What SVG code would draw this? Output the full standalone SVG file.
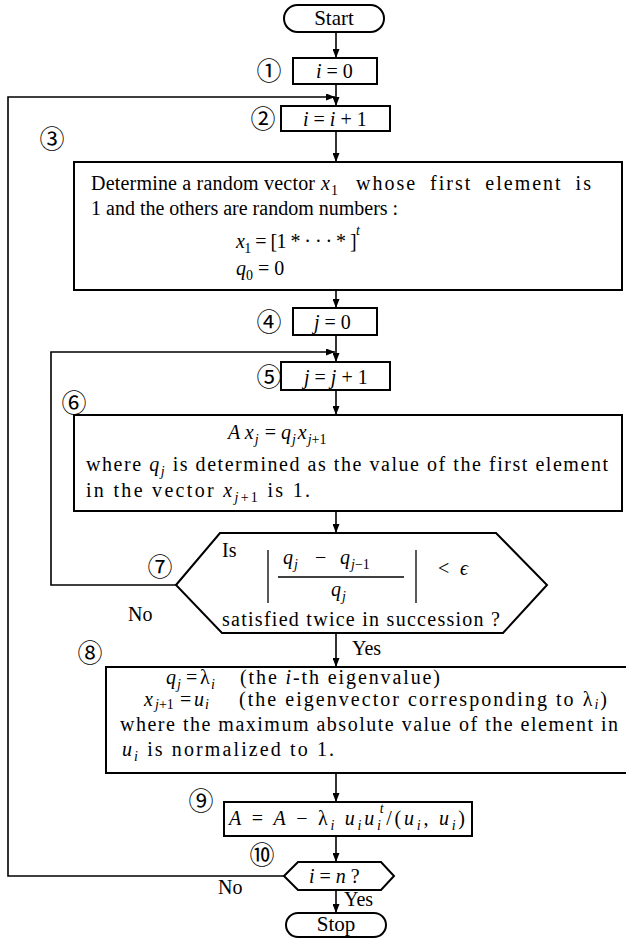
<svg xmlns="http://www.w3.org/2000/svg" width="626" height="939" viewBox="0 0 626 939">
<defs>
<marker id="ah" viewBox="0 0 9 7" refX="9" refY="3.5" markerWidth="9" markerHeight="7" markerUnits="userSpaceOnUse" orient="auto">
<path d="M0,0 L9,3.5 L0,7 z" fill="#000"/>
</marker>
<style>
.bx{fill:#fff;stroke:#000;stroke-width:2}
.cn{fill:none;stroke:#000;stroke-width:1.6}
.ar{marker-end:url(#ah)}
.ln{stroke:#000;stroke-width:1.3}
text{font-family:"Liberation Serif","Times New Roman",serif;font-size:20px;fill:#000}
.i{font-style:italic}
.sb{font-size:14px}
.num{font-family:"Noto Sans CJK JP","DejaVu Sans",sans-serif;font-size:25px;text-anchor:middle}
.m{text-anchor:middle}
</style>
</defs>
<rect width="626" height="939" fill="#fff"/>

<g id="connectors">
<line class="cn ar" x1="336" y1="32" x2="336" y2="58"/>
<line class="cn ar" x1="336" y1="84" x2="336" y2="106"/>
<line class="cn ar" x1="336" y1="131" x2="336" y2="162"/>
<line class="cn ar" x1="336" y1="290" x2="336" y2="308"/>
<line class="cn ar" x1="336" y1="335" x2="336" y2="362"/>
<line class="cn ar" x1="336" y1="390" x2="336" y2="415"/>
<line class="cn ar" x1="336" y1="511" x2="336" y2="533"/>
<line class="cn ar" x1="336" y1="633" x2="336" y2="667"/>
<line class="cn ar" x1="336" y1="773" x2="336" y2="802"/>
<line class="cn ar" x1="336" y1="836" x2="336" y2="862"/>
<line class="cn ar" x1="336" y1="890" x2="336" y2="913"/>
<polyline class="cn ar" points="284,876 8,876 8,97 335,97"/>
<polyline class="cn ar" points="176,585 51,585 51,352 335,352"/>
<text x="128" y="621">No</text>
<text x="352" y="655">Yes</text>
<text x="218" y="894">No</text>
<text x="344" y="906">Yes</text>
</g>

<g id="start">
<rect class="bx" x="284" y="5" width="100" height="27" rx="13.5"/>
<text class="m" x="334" y="25" style="font-size:21px">Start</text>
</g>

<g id="n1">
<text class="num" x="269" y="80">①</text>
<rect class="bx" x="293" y="58" width="84" height="26"/>
<text x="316" y="78"><tspan class="i">i</tspan> = 0</text>
</g>

<g id="n2">
<text class="num" x="263" y="128">②</text>
<rect class="bx" x="281" y="106" width="109" height="25"/>
<text x="303" y="126"><tspan class="i">i</tspan> = <tspan class="i">i</tspan> + 1</text>
</g>

<g id="n3">
<text class="num" x="52" y="148">③</text>
<rect class="bx" x="74" y="162" width="548" height="128"/>
<text x="91" y="190" textLength="224" lengthAdjust="spacing">Determine a random vector</text>
<text x="321" y="190"><tspan class="i">x</tspan><tspan class="sb" dx="1" dy="5">1</tspan></text>
<text x="356" y="190" style="letter-spacing:2px;word-spacing:6px">whose first element is</text>
<text x="91" y="215">1 and the others are random numbers :</text>
<text x="236" y="248" textLength="124" lengthAdjust="spacing"><tspan class="i">x</tspan><tspan class="sb" dy="5">1</tspan><tspan dy="-5"> = [1 * · · · * ]</tspan><tspan class="i sb" dy="-13">t</tspan></text>
<text x="236" y="275"><tspan class="i">q</tspan><tspan class="sb" dy="5">0</tspan><tspan dy="-5"> = 0</tspan></text>
</g>

<g id="n4">
<text class="num" x="269" y="331">④</text>
<rect class="bx" x="293" y="308" width="84" height="27"/>
<text x="314" y="329"><tspan class="i">j</tspan> = 0</text>
</g>

<g id="n5">
<text class="num" x="269" y="386">⑤</text>
<rect class="bx" x="281" y="362" width="109" height="28"/>
<text x="304" y="384"><tspan class="i">j</tspan> = <tspan class="i">j</tspan> + 1</text>
</g>

<g id="n6">
<text class="num" x="74" y="412">⑥</text>
<rect class="bx" x="74" y="415" width="548" height="96"/>
<text x="228" y="439"><tspan class="i">A x</tspan><tspan class="i sb" dx="1" dy="5">j</tspan><tspan dx="1" dy="-5"> = </tspan><tspan class="i">q</tspan><tspan class="i sb" dx="1" dy="5">j</tspan><tspan class="i" dx="2" dy="-5">x</tspan><tspan class="sb" dx="1" dy="5"><tspan class="i">j</tspan>+1</tspan></text>
<text x="86" y="471" textLength="522" lengthAdjust="spacing">where <tspan class="i">q</tspan><tspan class="i sb" dy="5">j</tspan><tspan dy="-5"> is determined as the value of the first element</tspan></text>
<text x="86" y="497" textLength="224" lengthAdjust="spacing">in the vector <tspan class="i">x</tspan><tspan class="sb" dy="5"><tspan class="i">j</tspan>+1</tspan><tspan dy="-5">  is  1.</tspan></text>
</g>

<g id="n7">
<text class="num" x="160" y="576">⑦</text>
<polygon class="bx" points="176,585 220,533 496,533 547,585 503,633 222,633"/>
<text x="222" y="557">Is</text>
<line class="ln" x1="268" y1="550" x2="268" y2="603"/>
<line class="ln" x1="416" y1="550" x2="416" y2="603"/>
<text x="283" y="564"><tspan class="i">q</tspan><tspan class="i sb" dx="1" dy="5">j</tspan></text>
<text x="315" y="564">−</text>
<text x="340" y="564"><tspan class="i">q</tspan><tspan class="sb" dx="1" dy="5"><tspan class="i">j</tspan>−1</tspan></text>
<line class="ln" x1="278" y1="577" x2="404" y2="577"/>
<text x="331" y="596"><tspan class="i">q</tspan><tspan class="i sb" dx="1" dy="5">j</tspan></text>
<text x="438" y="575">&lt;</text>
<text class="i" x="460" y="575">ϵ</text>
<text x="222" y="626" textLength="278" lengthAdjust="spacing">satisfied twice in succession ?</text>
</g>

<g id="n8">
<text class="num" x="90" y="662">⑧</text>
<rect class="bx" x="106" y="667" width="530" height="106"/>
<text class="i" x="166" y="684">q</text>
<text class="i sb" x="177" y="689">j</text>
<text x="186" y="684">=</text>
<text x="200" y="684">λ</text>
<text class="i sb" x="211" y="689">i</text>
<text x="240" y="684" textLength="200" lengthAdjust="spacing">(the <tspan class="i">i</tspan>-th eigenvalue)</text>
<text class="i" x="144" y="706">x</text>
<text class="sb" x="155" y="709"><tspan class="i">j</tspan>+1</text>
<text x="180" y="706">=</text>
<text class="i" x="194" y="706">u</text>
<text class="i sb" x="205" y="709">i</text>
<text x="239" y="706" textLength="368" lengthAdjust="spacing">(the eigenvector corresponding to λ<tspan class="i sb" dy="3">i</tspan><tspan dy="-3">)</tspan></text>
<text x="120" y="731" textLength="498" lengthAdjust="spacing">where the maximum absolute value of the element in</text>
<text x="122" y="756" textLength="212" lengthAdjust="spacing"><tspan class="i">u</tspan><tspan class="i sb" dy="5">i</tspan><tspan dy="-5">  is normalized to 1.</tspan></text>
</g>

<g id="n9">
<text class="num" x="201" y="810">⑨</text>
<rect class="bx" x="224" y="802" width="248" height="34"/>
<text x="229" y="825" textLength="236" lengthAdjust="spacing"><tspan class="i">A</tspan> = <tspan class="i">A</tspan> − λ<tspan class="i sb" dy="5">i</tspan><tspan class="i" dy="-5"> u</tspan><tspan class="i sb" dy="5">i</tspan><tspan class="i" dy="-5">u</tspan><tspan class="i sb" dy="5">i</tspan><tspan class="i sb" dx="-4" dy="-17">t</tspan><tspan dy="12">/(</tspan><tspan class="i">u</tspan><tspan class="i sb" dy="5">i</tspan><tspan dy="-5">, </tspan><tspan class="i">u</tspan><tspan class="i sb" dy="5">i</tspan><tspan dy="-5">)</tspan></text>
</g>

<g id="n10">
<text class="num" x="262" y="864">⑩</text>
<polygon class="bx" points="284,876 298,862 381,862 394,876 381,890 298,890"/>
<text x="309" y="883"><tspan class="i">i</tspan> = <tspan class="i">n</tspan> ?</text>
</g>

<g id="stop">
<rect class="bx" x="286" y="913" width="100" height="24" rx="12"/>
<text class="m" x="336" y="931" style="font-size:21px">Stop</text>
</g>
</svg>
